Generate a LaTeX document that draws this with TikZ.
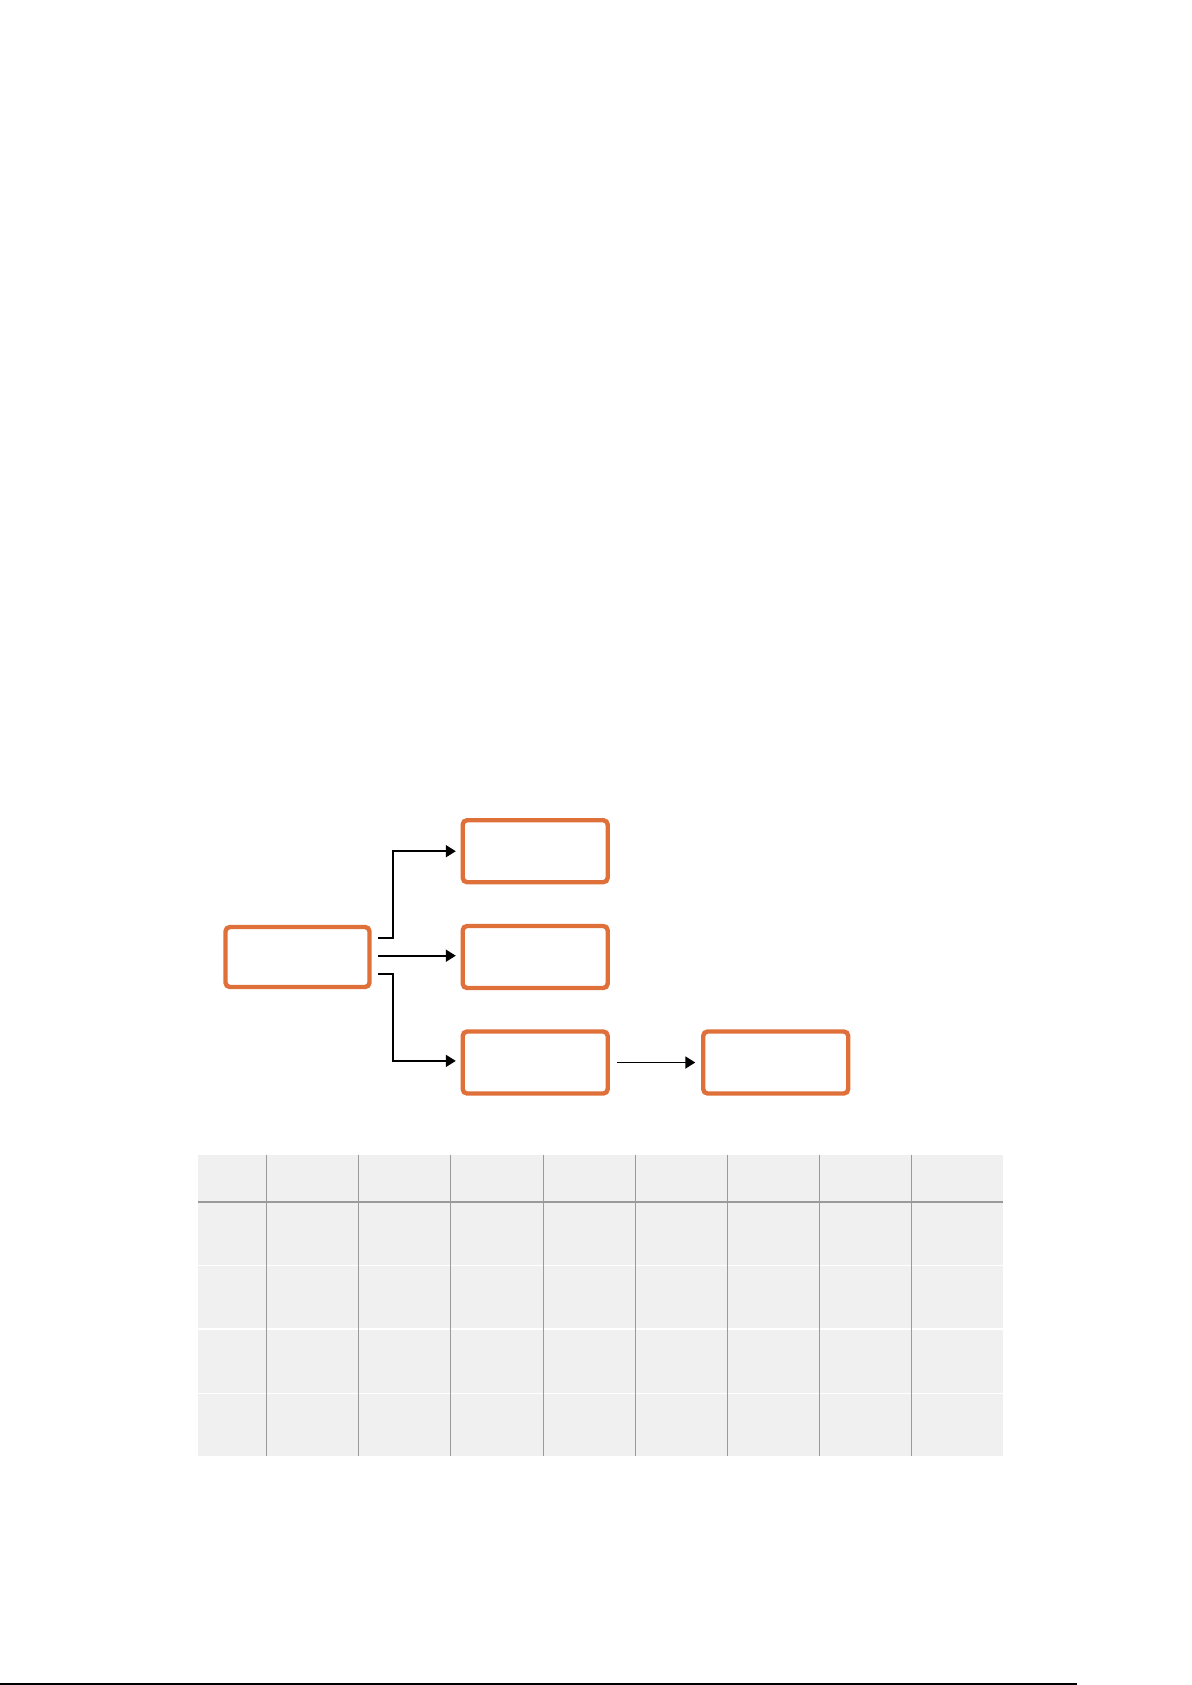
\documentclass[tikz,border=0pt]{standalone}
\usetikzlibrary{arrows.meta}
\definecolor{boxorange}{HTML}{E0703A}
\definecolor{cellgray}{HTML}{F0F0F0}
\definecolor{gridgray}{HTML}{9A9A9A}
\begin{document}
\begin{tikzpicture}[x=0.5pt,y=-0.5pt,
  flowbox/.style={draw=boxorange, line width=2.2pt, rounded corners=2.2pt,
    minimum width=72.5pt, minimum height=31pt, inner sep=0pt, fill=white},
  conn/.style={line width=0.9pt, -{Triangle[length=5pt,width=6pt]}},
  gridline/.style={gridgray, line width=0.55pt},
  rowsep/.style={white, line width=0.6pt}]
\useasboundingbox (0,0) rectangle (1192,1685);
% flow boxes
\node[flowbox, minimum width=72pt, minimum height=30pt] (L) at (297.5,957) {};
\node[flowbox] (T) at (535.2,851.2) {};
\node[flowbox] (M) at (535.2,957) {};
\node[flowbox] (B) at (535.2,1062.5) {};
\node[flowbox] (R) at (775.7,1062.5) {};
% connectors
\draw[conn, shorten >=2.35pt] ([xshift=3.3pt,yshift=9.5pt]L.east) -- ++(7.5pt,0) |- (T.west);
\draw[conn, shorten <=3.3pt, shorten >=2.35pt] ([yshift=0.65pt]L.east) -- ([yshift=0.65pt]M.west);
\draw[conn, shorten >=2.35pt] ([xshift=3.3pt,yshift=-8.35pt]L.east) -- ++(7.5pt,0) |- ([yshift=0.8pt]B.west);
\draw[conn, shorten <=3.5pt, shorten >=2.85pt] (B.east) -- (R.west);
% table
\fill[cellgray] (198,1154.7) rectangle (1003,1455.7);
\foreach \y in {1265.3,1329,1393.3} \draw[rowsep] (198,\y) -- (1003,\y);
\draw[gridline] (198,1202) -- (1003,1202);
\foreach \x in {266.3,358.3,450.3,543.3,635.3,727.3,819.3,911.3}
  \draw[gridline] (\x,1154.7) -- (\x,1455.7);
% bottom rule
\fill[black] (0,1683) rectangle (1077,1685);
\end{tikzpicture}
\end{document}
